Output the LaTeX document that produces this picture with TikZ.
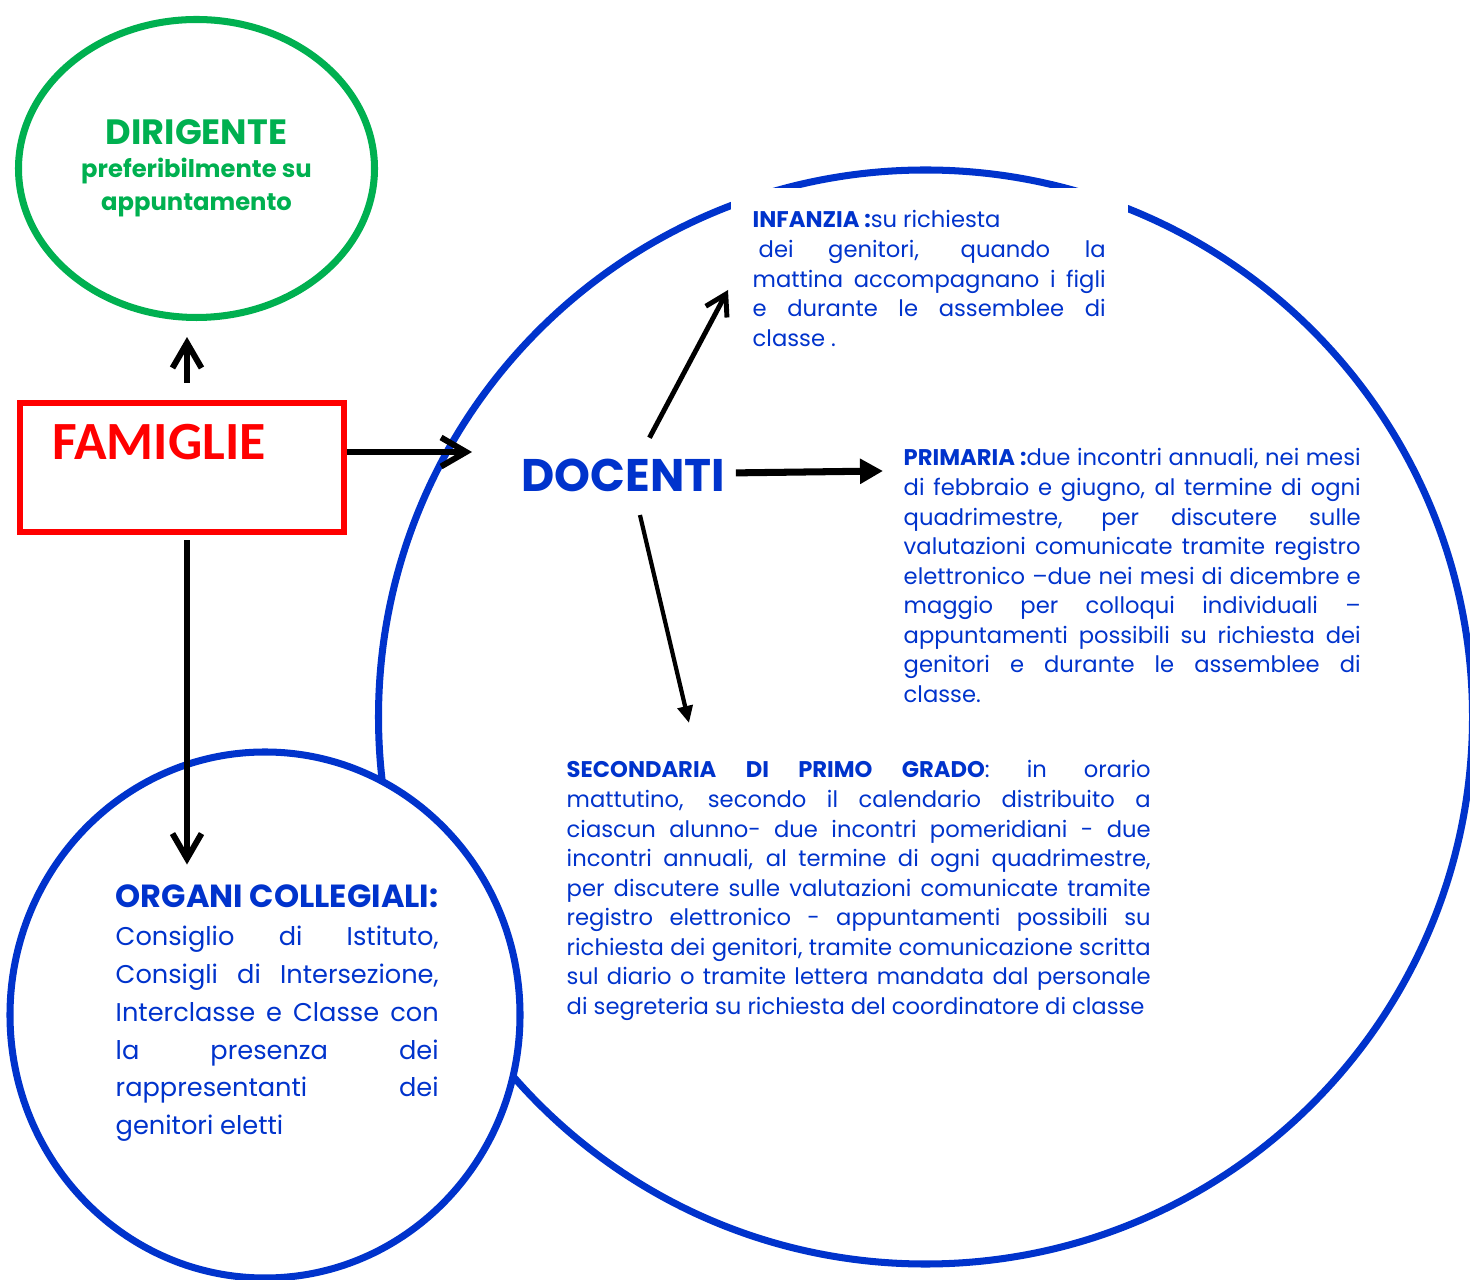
\documentclass[tikz,border=0pt]{standalone}
\usepackage{fontspec}
\setmainfont{Poppins}
\newfontfamily\famfont{Carlito}
\usetikzlibrary{calc,arrows.meta,shapes.geometric}
\definecolor{docblue}{RGB}{0,51,204}
\definecolor{dirgreen}{RGB}{0,176,80}
\definecolor{famred}{RGB}{255,0,0}

\begin{document}
\begin{tikzpicture}[
            ring/.style={ellipse,draw=docblue,line width=2pt,inner sep=0pt},
            blurb/.style={text=docblue,align=justify,inner sep=0pt,anchor=base west,
                font=\fontsize{6.45}{8.4}\selectfont},
            barb/.style={-{Straight Barb[length=0.25cm,width=0.29cm]},line width=1.7pt},
            thinbarb/.style={-{Straight Barb[length=0.2cm,width=0.24cm]},line width=1.4pt},
            fat/.style={-{Triangle[length=0.23cm,width=0.24cm]},line width=2pt},
            slim/.style={-{Triangle[length=0.17cm,width=0.15cm]},line width=1.2pt}]
            \useasboundingbox (0,0) rectangle (14.7,-12.8);
            \clip (0,0) rectangle (14.7,-12.8);

            \coordinate (A) at (9.255,-7.17);
            \coordinate (B) at (2.65,-10.15);
            \coordinate (C) at (1.965,-1.685);
            \coordinate (D) at (1.82,-4.675);
            \coordinate (E) at (5.21,-4.92);
            \coordinate (F) at (7.30,-2.28);
            \coordinate (G) at (9.03,-4.66);
            \coordinate (H) at (5.66,-7.78);
            \coordinate (I) at (1.15,-9.08);

            \node[ring,minimum width=10.94cm,minimum height=10.94cm] (docarea) at (A) {};
            \node[ring,fill=white,minimum width=5.10cm,minimum height=5.26cm] (organi) at (B) {};
            \node[ellipse,draw=dirgreen,line width=2pt,inner sep=0pt,
                minimum width=3.56cm,minimum height=2.98cm,text=dirgreen,align=center,
                font=\bfseries\fontsize{6.9}{9.4}\selectfont] (dirigente) at (C)
                {{\fontsize{10}{9.4}\selectfont DIRIGENTE}\\preferibilmente su\\appuntamento};
            \node[draw=famred,line width=1.8pt,minimum width=3.24cm,minimum height=1.29cm] (famiglie) at (D) {};
            \node[anchor=base west,inner sep=0pt,text=famred,font=\famfont\bfseries\fontsize{15.3}{18}\selectfont]
                (famtext) at (0.52,-4.60) {FAMIGLIE};
            \node[anchor=base west,inner sep=0pt,text=docblue,font=\bfseries\fontsize{13}{15}\selectfont]
                (docenti) at (E) {DOCENTI};

            \node[blurb,fill=white,inner xsep=0.22cm,inner ysep=0.23cm,text width=3.53cm] (infanzia) at (F)
                {{\bfseries INFANZIA :}su richiesta\\
                \hspace*{0.06cm}dei genitori, quando la\linebreak
                mattina accompagnano i figli\linebreak
                e durante le assemblee di\linebreak
                classe .};
            \node[blurb,text width=4.57cm] (primaria) at (G)
                {{\bfseries PRIMARIA :}due incontri annuali, nei mesi\linebreak
                di febbraio e giugno, al termine di ogni\linebreak
                quadrimestre, per discutere sulle\linebreak
                valutazioni comunicate tramite registro\linebreak
                elettronico –due nei mesi di dicembre e\linebreak
                maggio per colloqui individuali –\linebreak
                appuntamenti possibili su richiesta dei\linebreak
                genitori e durante le assemblee di\linebreak
                classe.};
            \node[blurb,text width=5.84cm] (secondaria) at (H)
                {{\bfseries SECONDARIA DI PRIMO GRADO}: in orario\linebreak
                mattutino, secondo il calendario distribuito a\linebreak
                ciascun alunno- due incontri pomeridiani - due\linebreak
                incontri annuali, al termine di ogni quadrimestre,\linebreak
                per discutere sulle valutazioni comunicate tramite\linebreak
                registro elettronico - appuntamenti possibili su\linebreak
                richiesta dei genitori, tramite comunicazione scritta\linebreak
                sul diario o tramite lettera mandata dal personale\linebreak
                di segreteria su richiesta del coordinatore di classe};
            \node[blurb,text width=3.23cm,font=\fontsize{7.3}{10.75}\selectfont] (organitext) at (I)
                {{\bfseries\fontsize{9.1}{10.75}\selectfont ORGANI COLLEGIALI:}\\
                Consiglio di Istituto,\linebreak
                Consigli di Intersezione,\linebreak
                Interclasse e Classe con\linebreak
                la presenza dei\linebreak
                rappresentanti dei\linebreak
                genitori eletti};

            \draw[barb,shorten <=0.17cm,shorten >=0.16cm] ([xshift=0.05cm]famiglie.north) -- ([xshift=0.05cm]famiglie.north |- dirigente.south);
            \draw[barb,shorten >=0.49cm] ([yshift=0.155cm]famiglie.east) -- ([yshift=0.155cm]famiglie.east -| docenti.west);
            \draw[barb,shorten <=0.05cm,shorten >=0.2cm] ([xshift=0.05cm]famiglie.south) -- ([xshift=0.05cm]famiglie.south |- organitext.north);
            \draw[thinbarb] ([shift={(0.26,0.21)}]docenti.north) -- ([shift={(-0.02,-0.62)}]infanzia.base west);
            \draw[fat] ([shift={(0.10,0.03)}]docenti.east) -- ([shift={(-0.20,-0.05)}]primaria.base west);
            \draw[slim] ([shift={(0.165,-0.22)}]docenti.south) -- ([shift={(1.23,0.55)}]secondaria.base west);
        \end{tikzpicture}
\end{document}
